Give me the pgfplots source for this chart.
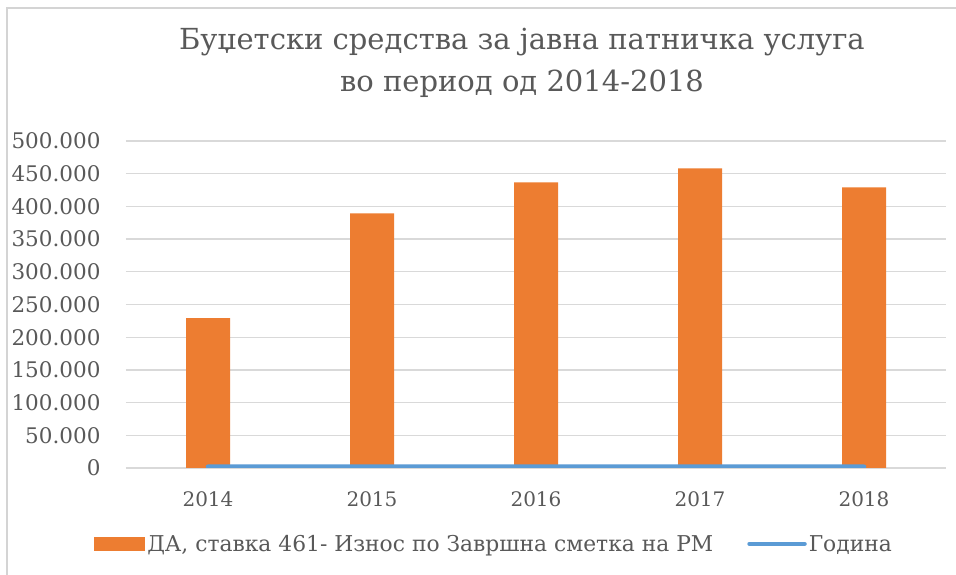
\documentclass[border=0pt]{standalone}
\usepackage{fontspec}
\setmainfont{DejaVu Serif}
\usepackage{pgfplots}
\pgfplotsset{compat=1.18}
\definecolor{barc}{HTML}{ED7D31}
\definecolor{linec}{HTML}{5B9BD5}
\definecolor{gridc}{HTML}{D9D9D9}
\definecolor{txt}{HTML}{595959}
\definecolor{framec}{HTML}{D4D4D4}
\begin{document}
\begin{tikzpicture}[x=1pt,y=1pt]
\path[use as bounding box] (0,0) rectangle (956,575);
\fill[white] (0,0) rectangle (956,575);
\draw[framec, line width=1.5pt] (7,-2) -- (7,567) -- (958,567);
\node[txt, font=\fontsize{29}{42}\selectfont, align=center] at (522,512) {Буџетски средства за јавна патничка услуга\\во период од 2014-2018};
\begin{axis}[
  at={(126pt,107pt)}, anchor=south west, scale only axis,
  width=820pt, height=327pt,
  xmin=-0.5, xmax=4.5, ymin=0, ymax=500000,
  axis line style={draw=none}, tick style={draw=none}, major tick length=0pt,
  ytick={0,50000,...,500000},
  xtick={0,1,2,3,4}, xticklabels={2014,2015,2016,2017,2018},
  ymajorgrids, grid style={gridc, line width=1.3pt},
  scaled y ticks=false,
  /pgf/number format/.cd, fixed, precision=0, 1000 sep={.}, assume math mode=true, /pgfplots/.cd,
  yticklabel style={font=\fontsize{21.5}{24}\selectfont, text=txt, anchor=east, xshift=-22pt},
  xticklabel style={font=\fontsize{20}{24}\selectfont, text=txt, anchor=north, yshift=-20pt},
  legend columns=2,
  legend style={draw=none, fill=none, at={(-0.0426,-0.232)}, anchor=west,
    font=\fontsize{21.8}{24}\selectfont, text=txt,
    /tikz/every even column/.append style={column sep=32pt}},
  legend cell align=left,
]
\addplot[ybar, bar width=44pt, fill=barc, draw=none,
  legend image code/.code={\fill[barc] (0pt,-7pt) rectangle (51pt,7pt);}]
  coordinates {(0,229000) (1,389400) (2,436800) (3,458300) (4,429200)};
\addlegendentry{ДА, ставка 461- Износ по Завршна сметка на РМ}
\addplot[linec, line width=4.5pt, line cap=round,
  legend image code/.code={\draw[linec, line width=4.5pt, line cap=round] (2pt,0pt) -- (57pt,0pt);}]
  coordinates {(0,2014) (1,2015) (2,2016) (3,2017) (4,2018)};
\addlegendentry{Година}
\end{axis}
\end{tikzpicture}
\end{document}
